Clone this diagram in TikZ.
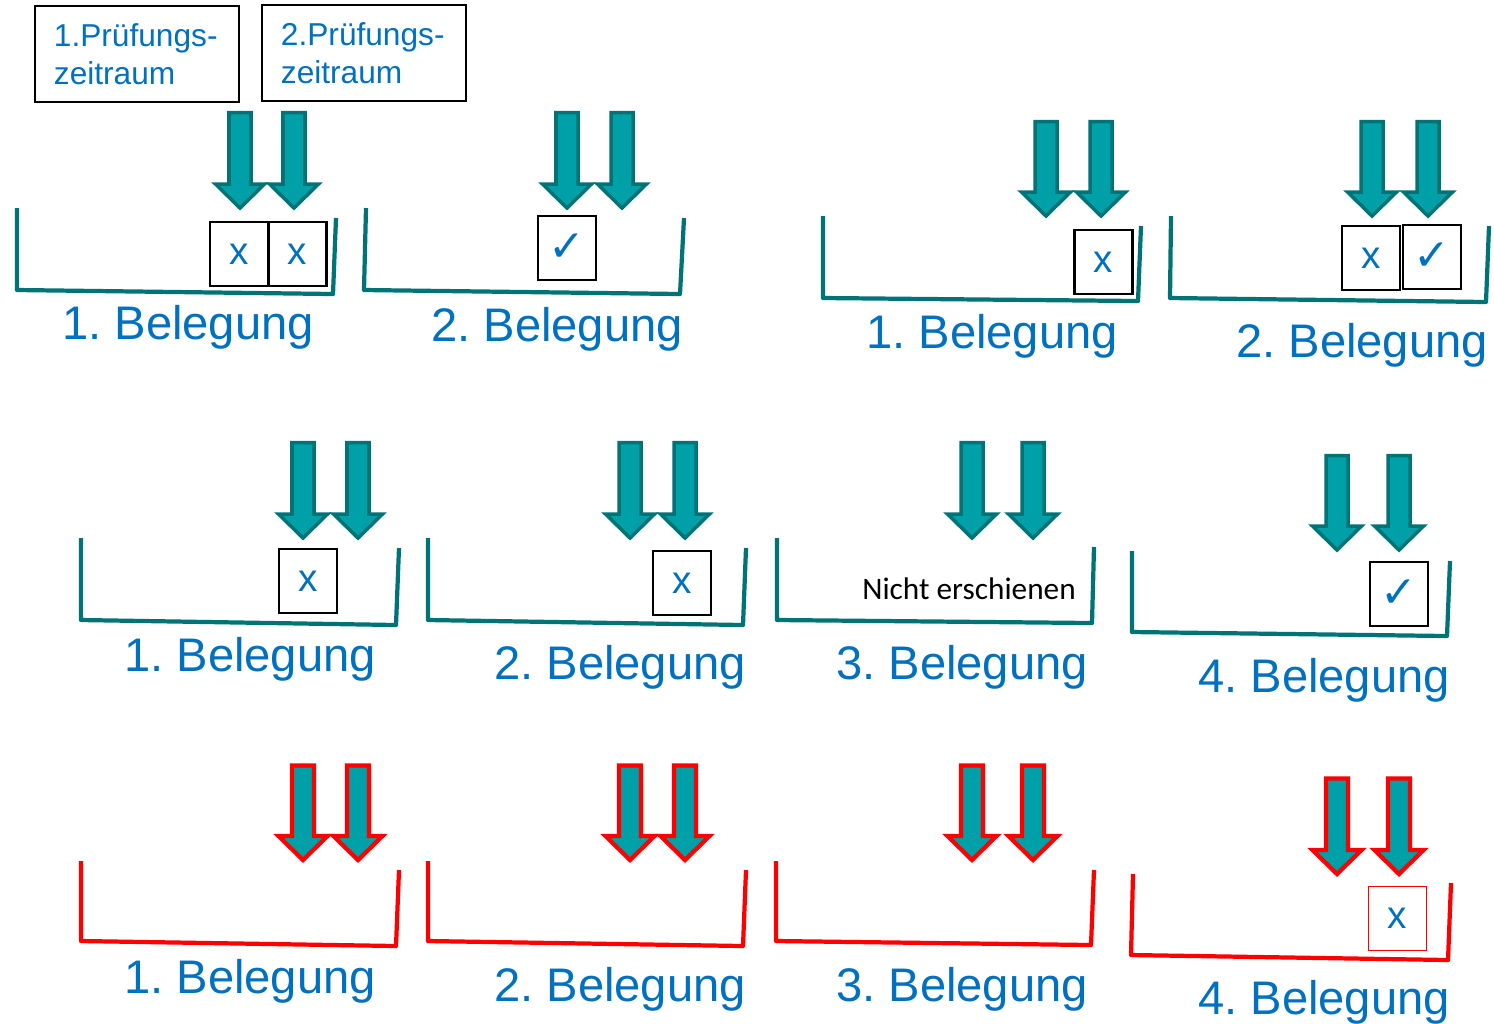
\documentclass[tikz,border=0pt]{standalone}
\usepackage{fontspec}
\setmainfont{Liberation Sans}
\newfontfamily\symfont{DejaVu Sans}
\newfontfamily\calfont{Carlito}
\frenchspacing
\definecolor{tealdark}{RGB}{0,115,118}
\definecolor{tealfill}{RGB}{0,160,168}
\definecolor{belegblue}{RGB}{0,112,192}
\definecolor{alarmred}{RGB}{255,0,0}
% block arrow: style, x, top, tip
\newcommand{\dropArrow}[4]{%
  \draw[#1] (#2-11,#3+1.5) -- (#2+11,#3+1.5) -- (#2+11,#4-26) -- (#2+24.5,#4-26)
    -- (#2,#4-2) -- (#2-24.5,#4-26) -- (#2-11,#4-26) -- cycle;}
\newcommand{\okmark}{{\symfont\fontsize{12.5}{14}\selectfont ✓}}
\begin{document}
\begin{tikzpicture}[x=0.01cm, y=-0.01cm,
    tray/.style={draw=tealdark, line width=1.2pt, line join=round},
    redtray/.style={draw=alarmred, line width=1.2pt, line join=round},
    tealarrow/.style={draw=tealdark, fill=tealfill, line width=1pt},
    redarrow/.style={draw=alarmred, fill=tealfill, line width=1.2pt},
    markbox/.style={draw=black, line width=0.6pt, minimum width=0.58cm, minimum height=0.64cm,
        inner sep=0pt, text=belegblue, font=\fontsize{11}{13}\selectfont},
    beleglabel/.style={anchor=base, text=belegblue, font=\fontsize{13.4}{16}\selectfont}]
    \useasboundingbox (0,0) rectangle (1494,1023);
    % headers
    \begin{scope}[every node/.style={draw=black, line width=0.6pt, minimum width=2.04cm,
        minimum height=0.96cm, inner xsep=0.19cm, text width=1.66cm, align=left,
        text=belegblue, font=\fontsize{9}{10.8}\selectfont}]
        \node (pz1) at (137,54) {1.Prüfungs-\\zeitraum};
        \node (pz2) at (364,53) {2.Prüfungs-\\zeitraum};
    \end{scope}
    % trays
    \draw[tray] (17,208) -- (17,290) -- (333,294) -- (336,218);
    \draw[tray] (366,208) -- (364,290) -- (680,294) -- (684,218);
    \draw[tray] (823,216) -- (823,298) -- (1138,301) -- (1141,226);
    \draw[tray] (1171,216) -- (1170,298) -- (1486,302) -- (1489,226);
    \draw[tray] (81,538) -- (81,620) -- (396,625) -- (399,548);
    \draw[tray] (428,538) -- (428,620) -- (743,625) -- (746,548);
    \draw[tray] (777,538) -- (777,620) -- (1092,623) -- (1094,547);
    \draw[tray] (1132,551) -- (1132,632) -- (1447,636) -- (1450,561);
    \draw[redtray] (81,861) -- (81,941) -- (396,946) -- (399,870);
    \draw[redtray] (428,861) -- (428,941) -- (743,946) -- (746,870);
    \draw[redtray] (776,861) -- (776,941) -- (1091,945) -- (1094,870);
    \draw[redtray] (1133,874) -- (1131,955) -- (1448,960) -- (1451,883);
    % arrows
    \foreach \ax/\at/\ap in {240/111/210, 294/111/210, 567/111/210, 622/111/210,
        1046/120/218, 1101/120/218, 1372/120/218, 1428/120/218,
        303/441/540, 358/441/540, 630/441/540, 685/441/540,
        972/441/540, 1033/441/540, 1337/454/552, 1399/454/552}
        \dropArrow{tealarrow}{\ax}{\at}{\ap};
    \foreach \ax/\at/\ap in {303/764/862, 358/764/862, 630/764/862, 685/764/862,
        972/764/862, 1033/764/862, 1337/777/876, 1399/777/876}
        \dropArrow{redarrow}{\ax}{\at}{\ap};
    % marks
    \node[markbox] (m1a) at (239,254) {x};
    \node[markbox] (m1b) at (297.5,254) {x};
    \node[markbox] (m2a) at (567,248) {\okmark};
    \node[markbox] (m3a) at (1103.5,262) {x};
    \node[markbox] (m4a) at (1371,258) {x};
    \node[markbox] (m4b) at (1432,257) {\okmark};
    \node[markbox] (m5a) at (308,581) {x};
    \node[markbox] (m6a) at (682,583) {x};
    \node[font=\calfont\fontsize{8.9}{11}\selectfont] (m7a) at (969,589) {Nicht erschienen};
    \node[markbox] (m8a) at (1399,594) {\okmark};
    \node[markbox, draw=alarmred, line width=0.5pt] (m12a) at (1397.5,918.5) {x};
    % labels
    \node[beleglabel] (l1) at (188,339) {1. Belegung};
    \node[beleglabel] (l2) at (557,341) {2. Belegung};
    \node[beleglabel] (l3) at (992,348) {1. Belegung};
    \node[beleglabel] (l4) at (1362,357) {2. Belegung};
    \node[beleglabel] (l5) at (250,671) {1. Belegung};
    \node[beleglabel] (l6) at (620,679) {2. Belegung};
    \node[beleglabel] (l7) at (962,679) {3. Belegung};
    \node[beleglabel] (l8) at (1324,692) {4. Belegung};
    \node[beleglabel] (l9) at (250,993) {1. Belegung};
    \node[beleglabel] (l10) at (620,1001) {2. Belegung};
    \node[beleglabel] (l11) at (962,1001) {3. Belegung};
    \node[beleglabel] (l12) at (1324,1014) {4. Belegung};
\end{tikzpicture}
\end{document}
